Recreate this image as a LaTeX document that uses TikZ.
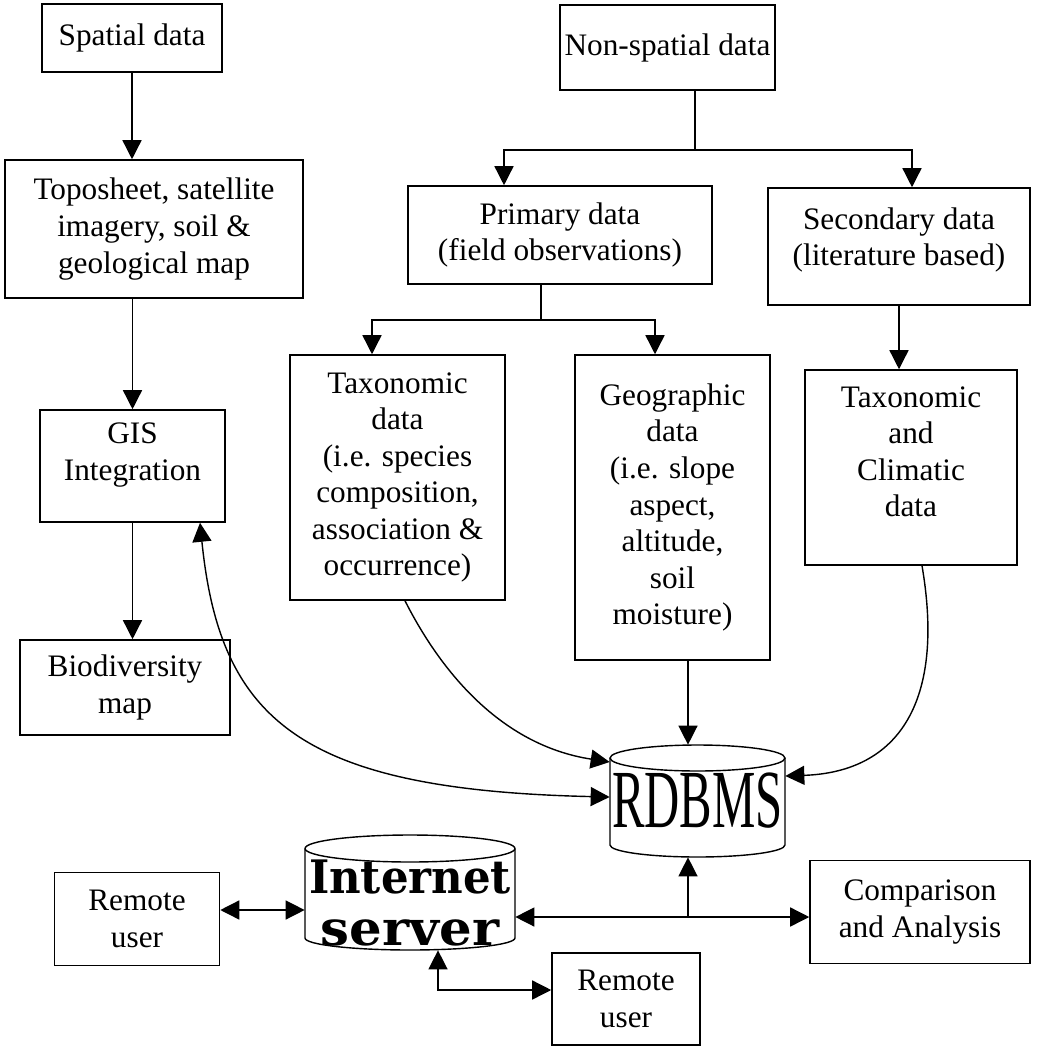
\documentclass[tikz,border=0pt]{standalone}
\usepackage{fontspec}
\setmainfont{Liberation Serif}
\newfontfamily\srvfont{DejaVu Serif}
\usepackage{graphicx}
\usetikzlibrary{arrows.meta}
\tikzset{
  box/.style={draw, line width=0.9pt, align=center, inner sep=2pt, font=\fontsize{17.8}{20.8}\selectfont},
  line/.style={line width=0.8pt},
  arr/.style={line, -{Triangle[length=0.38cm,width=0.38cm]}},
  dbl/.style={line, {Triangle[length=0.38cm,width=0.38cm]}-{Triangle[length=0.38cm,width=0.38cm]}},
  dbase/.style={inner sep=0pt},
}
\begin{document}
\begin{tikzpicture}[x=0.02cm, y=-0.02cm]
	\useasboundingbox (0,0) rectangle (1044,1048);
	%%%%% BOXES %%%%%
	
	\node[box, minimum width=3.6cm, minimum height=1.36cm] (spatial) at (132,38) {Spatial data};
	\node[box, minimum width=4.3cm, minimum height=1.7cm] (nonspatial) at (667.5,47.5) {Non-spatial data};
	
	\node[box, minimum width=5.96cm, minimum height=2.76cm] (topo) at (154,229) {Toposheet, satellite\\imagery, soil \&\\geological map};
	\node[box, minimum width=6.08cm, minimum height=1.96cm] (primary) at (560,235) {Primary data\\(field observations)};
	\node[box, minimum width=5.24cm, minimum height=2.34cm, text depth=11pt] (secondary) at (899,246.5) {Secondary data\\(literature based)};
	
	\node[box, minimum width=4.3cm, minimum height=4.9cm] (taxo) at (397.5,477.5) {Taxonomic\\data\\(i.e. species\\composition,\\association \&\\occurrence)};
	\node[box, minimum width=3.9cm, minimum height=6.1cm] (geo) at (672.5,507.5) {Geographic\\data\\(i.e. slope\\aspect,\\altitude,\\soil\\moisture)};
	\node[box, minimum width=4.24cm, minimum height=3.9cm, text depth=18pt] (taxclim) at (911,467.5) {Taxonomic\\and\\Climatic\\data};
	
	\node[box, minimum width=3.7cm, minimum height=2.24cm, text depth=16.5pt] (gis) at (132.5,466) {GIS\\Integration};
	\node[box, minimum width=4.2cm, minimum height=1.9cm] (bio) at (125,687.5) {Biodiversity\\map};
	
	\node[box, minimum width=3.3cm, minimum height=1.86cm] (ruser1) at (137,919) {Remote\\user};
	\node[box, minimum width=2.96cm, minimum height=1.84cm] (ruser2) at (626,999) {Remote\\user};
	\node[box, minimum width=4.4cm, minimum height=2.06cm] (compare) at (920,912) {Comparison\\and Analysis};
	
	%%%%% DATABASES %%%%%
	
	\node[dbase, minimum width=3.5cm, minimum height=2.24cm] (rdbms) at (697.5,801) {\scalebox{0.59}[1]{\fontsize{47}{47}\selectfont RDBMS}};
	\draw[line] (697.5,758) ellipse [x radius=1.75cm, y radius=0.26cm];
	\draw[line] (610,758) -- (610,845) arc [start angle=180, end angle=360, x radius=1.75cm, y radius=0.24cm] -- (785,758);
	
	\node[dbase, minimum width=4.2cm, minimum height=2.3cm] (inet) at (410,892.5) {};
	\node[dbase, align=center, font=\srvfont\bfseries\fontsize{25}{30}\selectfont] (inetlabel) at (410,903) {\scalebox{0.99}[1.05]{Internet}\\\scalebox{1.17}[1.1]{server}};
	\draw[line] (410,848.5) ellipse [x radius=2.1cm, y radius=0.27cm];
	\draw[line] (305,848.5) -- (305,938) arc [start angle=180, end angle=360, x radius=2.1cm, y radius=0.24cm] -- (515,848.5);
	
	%%%%% CONNECTORS %%%%%
	
	\draw[arr] (spatial.south) -- (spatial.south |- topo.north);
	\draw[arr] (topo.south -| gis.north) -- (gis.north);
	\draw[arr] (gis.south) -- (gis.south |- bio.north);
	
	\coordinate (nsfork) at (695,150);
	\draw[line] (nonspatial.south -| nsfork) -- (nsfork);
	\draw[arr] (nsfork) -| (primary.north -| 504,0);
	\draw[arr] (nsfork) -| (secondary.north -| 912,0);
	
	\coordinate (pfork) at (541,320);
	\draw[line] (primary.south -| pfork) -- (pfork);
	\draw[arr] (pfork) -| (taxo.north -| 372,0);
	\draw[arr] (pfork) -| (geo.north -| 655,0);
	\draw[arr] (secondary.south) -- (secondary.south |- taxclim.north);
	
	\draw[arr] (geo.south -| 688,0) -- (rdbms.north -| 688,0);
	\draw[arr] (taxo.south -| 405,0) .. controls (440,670) and (500,745) .. (rdbms.west |- 0,762);
	\draw[dbl] (gis.south -| 200,0) .. controls (220,720) and (300,790) .. (rdbms.west |- 0,797);
	\draw[arr] (taxclim.south -| 922,0) .. controls (945,700) and (900,772) .. (rdbms.east |- 0,776);
	
	\coordinate (hub) at (688,917);
	\draw[dbl] (inet.east |- hub) -- (compare.west |- hub);
	\draw[arr] (hub) -- (rdbms.south -| hub);
	\draw[dbl] (ruser1.east |- 0,910) -- (inet.west |- 0,910);
	\coordinate (ibend) at (438,990);
	\draw[dbl] (inet.south -| ibend) -- (ibend) -- (ruser2.west |- ibend);
	
	%%%%% END %%%%%
\end{tikzpicture}
\end{document}
